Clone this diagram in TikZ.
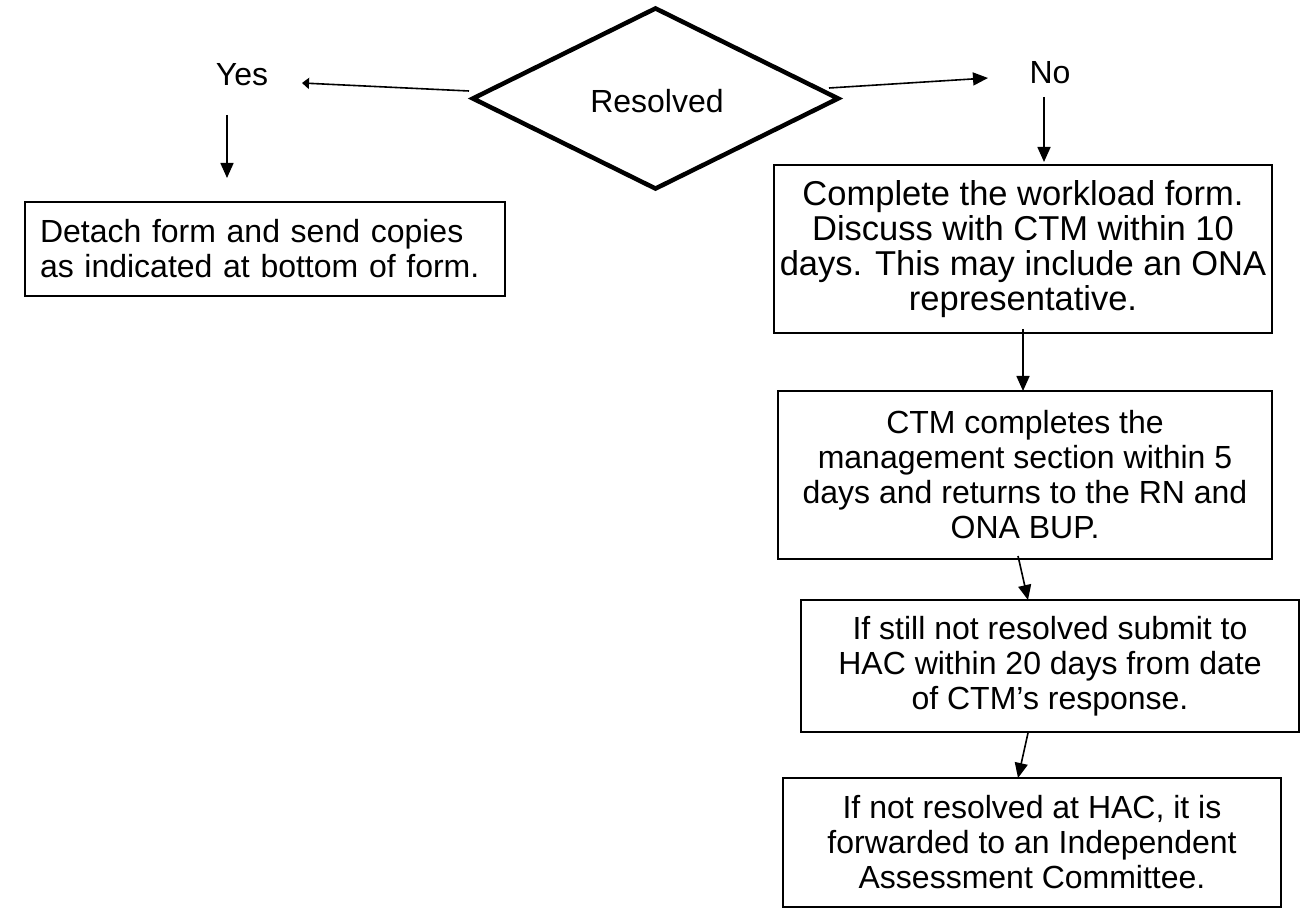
\documentclass[tikz,border=0pt]{standalone}
\usepackage{fontspec}
\setmainfont{Liberation Sans}
\usetikzlibrary{arrows.meta,shapes.geometric}
\tikzset{
  box/.style={draw, line width=2pt, align=center, inner sep=0pt, font=\fontsize{32}{35}\selectfont},
  lbl/.style={inner sep=0pt, font=\fontsize{32}{35}\selectfont},
  arr/.style={line width=1.6pt, -{Triangle[length=15pt,width=13pt]}},
  smallarr/.style={line width=1.6pt, -{Triangle[length=7pt,width=11pt]}},
  decision/.style={draw, diamond, line width=4.5pt, inner sep=0pt, font=\fontsize{32}{35}\selectfont}
}
\begin{document}
\begin{tikzpicture}[x=1pt,y=-1pt]
\useasboundingbox (0,0) rectangle (1302,909);
% decision
\node[decision, minimum width=367pt, minimum height=182pt] (dec) at (655.5,98.5) {};
\node[lbl] (res) at (657,101) {Resolved};
\node[lbl] (yes) at (242,75) {Yes};
\node[lbl] (no) at (1050,73) {No};
% boxes
\node[box, minimum width=498pt, minimum height=168pt, font=\fontsize{34.5}{35}\selectfont] (b1) at (1023,249) {Complete the workload form.\\Discuss with CTM within 10\\days. This may include an ONA\\representative.};
\node[box, minimum width=494pt, minimum height=168pt] (b2) at (1025,475) {CTM completes the\\management section within 5\\days and returns to the RN and\\ONA BUP.};
\node[box, minimum width=498pt, minimum height=132pt] (b3) at (1050,666) {If still not resolved submit to\\HAC within 20 days from date\\of CTM’s response.};
\node[box, minimum width=498pt, minimum height=129pt] (b4) at (1032,842.5) {If not resolved at HAC, it is\\forwarded to an Independent\\Assessment Committee.};
\node[box, minimum width=480pt, minimum height=94pt, text width=450pt, align=left, inner xsep=15pt] (b0) at (265,249) {Detach form and send copies\\as indicated at bottom of form.};
% arrow end points
\coordinate (yesA) at (469,91);
\coordinate (yesB) at (302,83);
\coordinate (noA) at (829,88);
\coordinate (noB) at (988,78);
\coordinate (yesD1) at (227,115);
\coordinate (yesD2) at (227,178);
\coordinate (noD1) at (1044,97);
\coordinate (noD2) at (1044,162);
\coordinate (a12s) at (1023,329);
\coordinate (a12e) at (1023,391);
\coordinate (a23s) at (1018,556);
\coordinate (a23e) at (1028,600);
\coordinate (a34s) at (1028,733);
\coordinate (a34e) at (1018,778);
\draw[smallarr] (yesA) -- (yesB);
\draw[arr] (noA) -- (noB);
\draw[arr] (yesD1) -- (yesD2);
\draw[arr] (noD1) -- (noD2);
\draw[arr] (a12s) -- (a12e);
\draw[arr] (a23s) -- (a23e);
\draw[arr] (a34s) -- (a34e);
\end{tikzpicture}
\end{document}
